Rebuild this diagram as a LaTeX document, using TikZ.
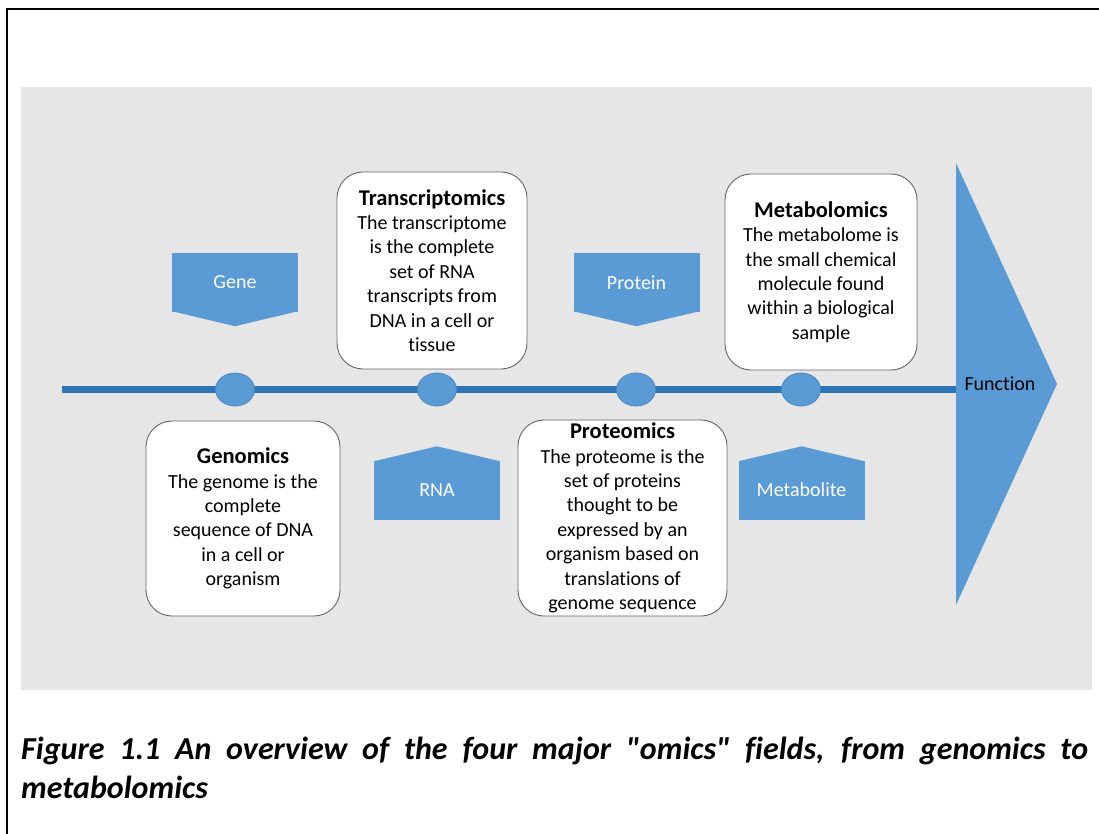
\documentclass[tikz,border=0pt]{standalone}
\usepackage{fontspec}
\setmainfont{Carlito}[Ligatures={TeXOff,NoCommon}]
\usepackage{tikz}
\usetikzlibrary{shapes.geometric}
\definecolor{omicsBlue}{HTML}{5B9BD5}
\definecolor{omicsEdge}{HTML}{4A87C2}
\definecolor{omicsLine}{HTML}{2E75B6}
\definecolor{omicsGrey}{HTML}{E6E6E6}
\newcommand{\omicsTitle}[1]{{\fontsize{22.5}{24.4}\selectfont\bfseries #1}}
\tikzset{%
  % Specifications for style of nodes:
        base/.style = {inner sep=0pt, font=\fontsize{20}{24.4}\selectfont},
    omicsBox/.style = {base, rectangle, rounded corners=26pt, draw=black!60,
                       line width=0.9pt, fill=white, align=center},
      tagBox/.style = {base, rectangle, fill=omicsBlue, text=white,
                       minimum width=126pt, minimum height=59pt},
    omicsDot/.style = {ellipse, fill=omicsBlue, draw=omicsEdge, line width=0.8pt,
                       minimum width=39pt, minimum height=33pt, inner sep=0pt},
    timeLine/.style = {draw=omicsLine, line width=7pt},
}

\begin{document}
\begin{tikzpicture}[x=1pt, y=-1pt, node distance=107pt]
  \useasboundingbox (0,0) rectangle (1099,834);
  % Background and frame
  \fill[omicsGrey] (21,87) rectangle (1092,690);
  \draw[line width=2.8pt] (7,834) -- (7,9) -- (1099,9);
  % Time line with the four stops
  \coordinate (lineStart) at (62,389.5);
  \coordinate (lineEnd)   at (956,389.5);
  \draw[timeLine] (lineStart) -- (lineEnd);
  \node (dotGene)       [omicsDot] at (235,389.5) {};
  \node (dotRNA)        [omicsDot] at (437,389.5) {};
  \node (dotProtein)    [omicsDot] at (636,389.5) {};
  \node (dotMetabolite) [omicsDot] at (801,389.5) {};
  % Function arrow head
  \fill[omicsBlue] (956,163) -- (1057,384) -- (956,605) -- cycle;
  \node (function) [base] at (1000,384) {Function};
  % Tags above and below the line
  \node (geneTag)       [tagBox, above of=dotGene]                {Gene};
  \node (proteinTag)    [tagBox, above of=dotProtein, xshift=0.5pt] {Protein};
  \node (rnaTag)        [tagBox, below of=dotRNA, yshift=6.5pt]   {RNA};
  \node (metaboliteTag) [tagBox, below of=dotMetabolite, xshift=0.5pt,
                         yshift=6.5pt]                           {Metabolite};
  \fill[omicsBlue] ([yshift=1pt]geneTag.south west) -- ([yshift=-14pt]geneTag.south)
                   -- ([yshift=1pt]geneTag.south east) -- cycle;
  \fill[omicsBlue] ([yshift=1pt]proteinTag.south west) -- ([yshift=-14pt]proteinTag.south)
                   -- ([yshift=1pt]proteinTag.south east) -- cycle;
  \fill[omicsBlue] ([yshift=-1pt]rnaTag.north west) -- ([yshift=14pt]rnaTag.north)
                   -- ([yshift=-1pt]rnaTag.north east) -- cycle;
  \fill[omicsBlue] ([yshift=-1pt]metaboliteTag.north west) -- ([yshift=14pt]metaboliteTag.north)
                   -- ([yshift=-1pt]metaboliteTag.north east) -- cycle;
  % Description boxes
  \node (transBox) [omicsBox, minimum width=190pt, minimum height=197pt]
        at (432,270.5) {\omicsTitle{Transcriptomics}\\The transcriptome\\is the complete\\
                        set of RNA\\transcripts from\\DNA in a cell or\\tissue};
  \node (metaBox)  [omicsBox, minimum width=192pt, minimum height=196pt]
        at (821,272) {\omicsTitle{Metabolomics}\\The metabolome is\\the small chemical\\
                      molecule found\\within a biological\\sample};
  \node (genoBox)  [omicsBox, minimum width=194pt, minimum height=195pt]
        at (243,518.5) {\omicsTitle{Genomics}\\The genome is the\\complete\\
                        sequence of DNA\\in a cell or\\organism};
  \node (protBox)  [omicsBox, minimum width=209pt, minimum height=196pt]
        at (622.5,518) {\omicsTitle{Proteomics}\\The proteome is the\\set of proteins\\
                        thought to be\\expressed by an\\organism based on\\
                        translations of\\genome sequence};
  % Caption
  \node (caption) [anchor=north west, inner sep=0pt, text width=1067pt, align=justify,
                   font=\fontsize{32}{39}\selectfont\bfseries\itshape]
        at (21,737) {Figure 1.1 An overview of the four major "omics" fields, from
                     genomics to \mbox{metabolomics}};
\end{tikzpicture}
\end{document}
